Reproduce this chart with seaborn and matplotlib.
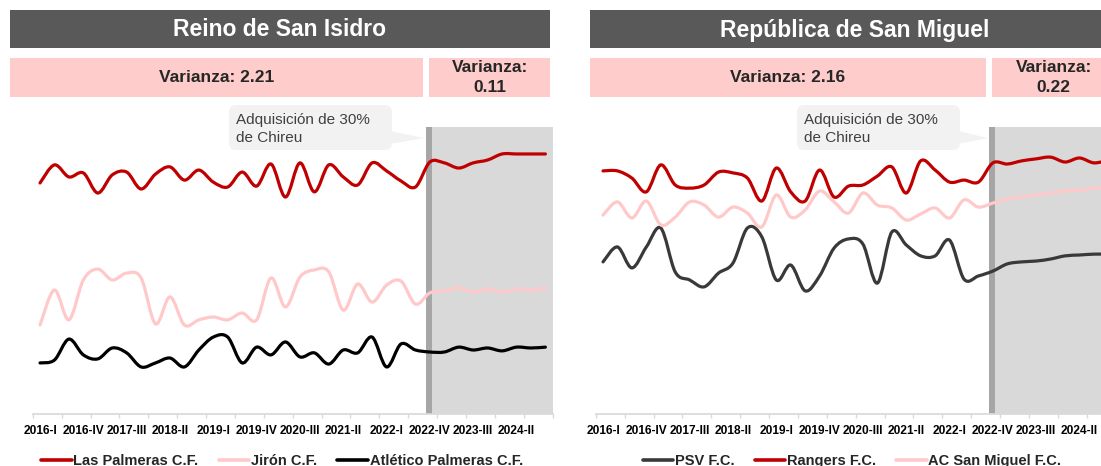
import matplotlib
matplotlib.use('Agg')
import matplotlib.pyplot as plt
from matplotlib.path import Path
from matplotlib.patches import PathPatch, Rectangle, FancyBboxPatch, Polygon
from matplotlib.transforms import IdentityTransform
from matplotlib.lines import Line2D
import numpy as np
import pandas as pd
import seaborn as sns

# Categories (quarters 2016-I .. 2024-IV)
years = [2016, 2017, 2018, 2019, 2020, 2021, 2022, 2023, 2024]
roman = ['I', 'II', 'III', 'IV']
quarters = [f'{y}-{q}' for y in years for q in roman]

# Reino de San Isidro (index values)
las_palmeras = [80.5, 86.8, 82.6, 84.0, 77.0, 83.3, 84.3, 78.4, 83.6, 86.1, 81.5, 85.0,
                80.8, 79.1, 84.3, 79.4, 87.1, 75.6, 87.5, 77.4, 86.8, 82.6, 79.8, 87.5,
                84.7, 81.2, 79.1, 87.8, 87.5, 85.7, 87.5, 88.5, 90.6, 90.6, 90.6, 90.6]
jiron = [31.0, 43.2, 32.8, 46.7, 50.5, 46.7, 49.1, 47.4, 31.4, 40.8, 31.0, 32.8,
         33.8, 32.8, 35.2, 32.8, 47.4, 37.3, 47.7, 50.2, 49.5, 36.2, 45.3, 39.0,
         44.9, 46.3, 38.3, 42.2, 42.9, 43.9, 42.5, 43.6, 42.5, 43.6, 43.2, 43.9]
atletico = [17.8, 18.8, 26.1, 20.6, 19.2, 23.0, 21.3, 16.4, 17.8, 19.5, 16.4, 22.3,
            26.8, 26.8, 17.8, 23.3, 20.6, 25.1, 19.9, 21.3, 17.4, 22.3, 21.3, 26.8,
            16.4, 24.4, 22.3, 21.6, 21.6, 23.3, 22.3, 23.0, 22.0, 23.3, 23.0, 23.3]

# República de San Miguel
psv = [53.0, 58.2, 50.9, 58.2, 64.8, 49.5, 46.7, 44.3, 49.1, 52.6, 64.8, 61.7,
       46.7, 51.9, 42.9, 48.1, 57.8, 61.0, 59.2, 45.6, 63.4, 58.9, 55.1, 55.1,
       60.6, 47.0, 48.1, 49.8, 52.3, 53.0, 53.3, 54.0, 55.1, 55.4, 55.7, 55.7]
rangers = [84.7, 84.7, 82.2, 77.4, 86.8, 79.8, 78.7, 79.8, 84.3, 84.0, 82.2, 74.2,
           85.7, 77.4, 74.2, 85.0, 75.6, 79.4, 79.8, 82.9, 86.1, 77.0, 88.2, 85.0,
           80.8, 81.5, 80.8, 87.5, 87.1, 88.2, 88.9, 89.5, 87.8, 89.2, 87.5, 88.5]
san_miguel = [69.3, 73.9, 68.3, 74.2, 65.9, 68.6, 73.9, 72.8, 68.6, 72.1, 70.0, 65.2,
              76.3, 68.6, 71.1, 77.7, 73.9, 70.0, 77.0, 72.8, 71.8, 67.6, 69.7, 71.8,
              68.3, 74.6, 72.1, 73.5, 74.9, 75.6, 76.3, 77.0, 77.7, 78.0, 78.7, 79.1]

split_quarter = '2022-IV'

RED = '#C00000'
PINK = '#FFC9C9'
BLACK = '#000000'
DARK = '#3B3838'

sns.set_theme(style='white')
plt.rcParams['font.family'] = ['Liberation Sans', 'DejaVu Sans']

W, H = 1101, 466
fig = plt.figure(figsize=(W / 100, H / 100), dpi=100)


def smooth_path(xs, ys):
    # excel-like smoothed line: catmull-rom as cubic bezier segments
    pts = np.column_stack([xs, ys]).astype(float)
    n = len(pts)
    verts = [pts[0]]
    codes = [Path.MOVETO]
    for i in range(n - 1):
        p0 = pts[max(i - 1, 0)]
        p1 = pts[i]
        p2 = pts[i + 1]
        p3 = pts[min(i + 2, n - 1)]
        verts += [p1 + (p2 - p0) / 6, p2 - (p3 - p1) / 6, p2]
        codes += [Path.CURVE4] * 3
    return Path(verts, codes)


def box(x0, y0, x1, y1, color):
    fig.add_artist(Rectangle((x0 / W, 1 - y1 / H), (x1 - x0) / W, (y1 - y0) / H,
                             transform=fig.transFigure, fc=color, ec='none'))


def callout(x0, y0, x1, y1, tip_x):
    fig.add_artist(FancyBboxPatch((x0, H - y1), x1 - x0, y1 - y0,
                                  boxstyle='round,pad=0,rounding_size=7',
                                  transform=IdentityTransform(), fc='#F2F2F2', ec='none'))
    fig.add_artist(Polygon([(x1 - 2, H - 131), (tip_x, H - 138), (x1 - 2, H - 144)],
                           transform=IdentityTransform(), fc='#F2F2F2', ec='none'))
    fig.text((x0 + 7) / W, 1 - 129 / H, 'Adquisición de 30%\nde Chireu', fontsize=11,
             color='#404040', va='center', ha='left', linespacing=1.4)


def panel(left_px, title, var1, var2, series, names, colors, head_x1, box2_x1, leg_x):
    ax = fig.add_axes([left_px / W, 52 / H, 519.8 / W, 287 / H])
    df = pd.DataFrame({'trimestre': quarters})
    for name, vals in zip(names, series):
        df[name] = vals
    x = np.arange(len(df))
    split = quarters.index(split_quarter)

    ax.axvspan(split + 0.15, len(df) - 0.5, color='#D9D9D9', lw=0, zorder=0)
    ax.axvspan(split - 0.25, split + 0.15, color='#A6A6A6', lw=0, zorder=0)

    for name, c in zip(names, colors):
        ax.add_patch(PathPatch(smooth_path(x, df[name]), fc='none', ec=c, lw=2.3,
                               capstyle='round', joinstyle='round', zorder=3))

    ax.set_xlim(-0.5, len(df) - 0.5)
    ax.set_ylim(0, 100)
    ax.set_yticks([])
    ticks = list(range(0, len(df), 3))
    ax.set_xticks(ticks)
    ax.set_xticklabels([quarters[i] for i in ticks], fontsize=8.6, fontweight='bold', color='#000000')
    ax.set_xticks(np.arange(-0.5, len(df), 2), minor=True)
    ax.tick_params(axis='x', which='major', length=0, pad=8)
    ax.tick_params(axis='x', which='minor', length=3, color='#D9D9D9', bottom=True)
    for s in ['left', 'right', 'top']:
        ax.spines[s].set_visible(False)
    ax.spines['bottom'].set_color('#D9D9D9')
    ax.patch.set_alpha(0)

    # header bars
    x0 = left_px - 23 if left_px < 100 else left_px - 6
    box(x0, 10, head_x1, 48, '#595959')
    fig.text((x0 + head_x1) / 2 / W, 1 - 30 / H, title, color='white', fontsize=16.5,
             fontweight='bold', ha='center', va='center')
    split_px = left_px + (split + 0.5 - 0.25) * 519.8 / len(df)
    box(x0, 58, split_px - 3, 97, '#FFCCCC')
    box(split_px + 3, 58, box2_x1, 97, '#FFCCCC')
    fig.text((x0 + split_px - 3) / 2 / W, 1 - 77 / H, var1, fontsize=12.5, fontweight='bold',
             color='#262626', ha='center', va='center')
    fig.text((split_px + 3 + box2_x1) / 2 / W, 1 - 77.5 / H, var2, fontsize=12.5,
             fontweight='bold', color='#262626', ha='center', va='center', linespacing=1.45)

    handles = [Line2D([], [], color=c, lw=2.6) for c in colors]
    fig.legend(handles, names, loc='center', bbox_to_anchor=(leg_x / W, 1 - 461 / H),
               ncol=3, frameon=False, prop={'weight': 'bold', 'size': 10.5},
               handlelength=2.1, handletextpad=0.1, columnspacing=1.4)
    return ax


panel(32.8, 'Reino de San Isidro', 'Varianza: 2.21', 'Varianza:\n0.11',
      [las_palmeras, jiron, atletico], ['Las Palmeras C.F.', 'Jirón C.F.', 'Atlético Palmeras C.F.'],
      [RED, PINK, BLACK], 550, 550, 282)
panel(595.8, 'República de San Miguel', 'Varianza: 2.16', 'Varianza:\n0.22',
      [psv, rangers, san_miguel], ['PSV F.C.', 'Rangers F.C.', 'AC San Miguel F.C.'],
      [DARK, RED, PINK], 1120, 1115, 852)

callout(229, 105, 392, 150, 424)
callout(797, 105, 960, 150, 988)

fig.savefig('out.png', dpi=100)
